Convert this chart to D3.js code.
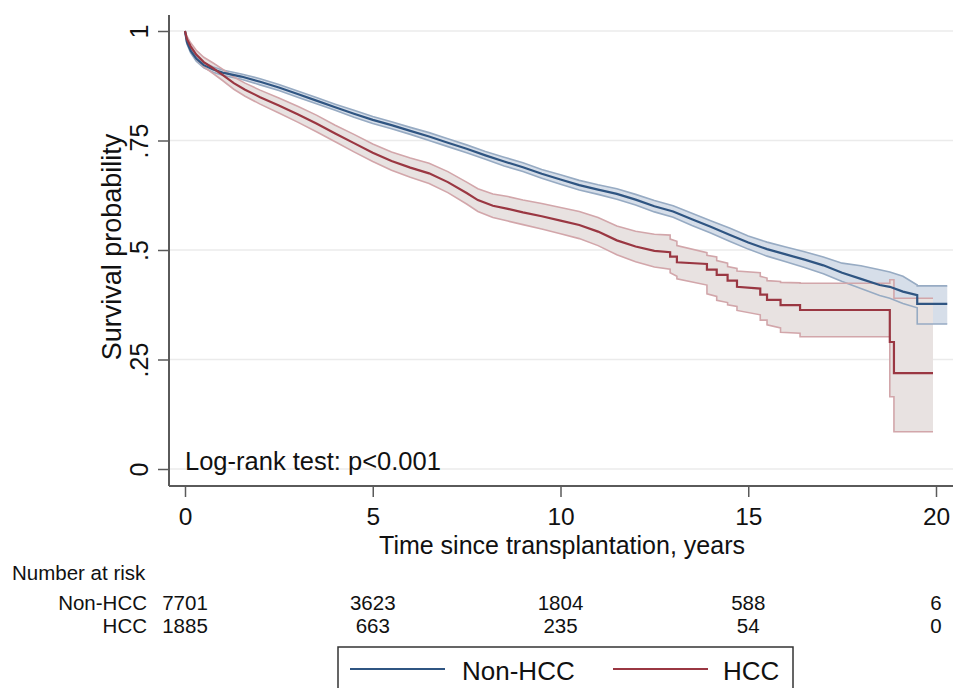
<!DOCTYPE html>
<html>
<head>
<meta charset="utf-8">
<script src="https://cdn.jsdelivr.net/npm/d3@7"></script>
<style>
  html, body { margin: 0; padding: 0; background: #fff; }
  svg { display: block; font-family: "Liberation Sans", Arial, sans-serif; }
</style>
</head>
<body>
<svg id="chart" width="953" height="688"></svg>
<script>
// ---------- data ----------
const groups = ["Non-HCC", "HCC"];

const nonHccTime = [0, 0.05, 0.15, 0.3, 0.5, 0.75, 1.0, 1.5, 2, 2.5, 3, 3.5, 4, 4.5, 5, 5.5, 6, 6.5, 7, 7.5, 8, 8.5, 9, 9.5, 10, 10.5, 11, 11.5, 12, 12.5, 13, 13.5, 14, 14.5, 15, 15.5, 16, 16.5, 17, 17.5, 18, 18.5, 18.77, 19.12, 19.5, 19.5, 20.3];
const nonHccSurv = [1, 0.975, 0.955, 0.937, 0.922, 0.912, 0.905, 0.896, 0.884, 0.871, 0.856, 0.841, 0.826, 0.811, 0.797, 0.785, 0.772, 0.759, 0.745, 0.731, 0.716, 0.702, 0.689, 0.674, 0.661, 0.648, 0.638, 0.628, 0.615, 0.600, 0.588, 0.570, 0.553, 0.535, 0.517, 0.502, 0.490, 0.478, 0.465, 0.448, 0.434, 0.420, 0.416, 0.405, 0.397, 0.377, 0.377];
const nonHccLower = [1, 0.971, 0.950, 0.931, 0.916, 0.906, 0.899, 0.890, 0.877, 0.864, 0.849, 0.834, 0.819, 0.803, 0.789, 0.777, 0.764, 0.750, 0.736, 0.722, 0.707, 0.692, 0.679, 0.664, 0.650, 0.637, 0.627, 0.616, 0.603, 0.587, 0.575, 0.556, 0.539, 0.520, 0.502, 0.486, 0.473, 0.460, 0.446, 0.428, 0.412, 0.396, 0.390, 0.378, 0.368, 0.331, 0.331];
const nonHccUpper = [1, 0.979, 0.960, 0.943, 0.928, 0.918, 0.911, 0.902, 0.891, 0.878, 0.863, 0.848, 0.833, 0.819, 0.805, 0.793, 0.780, 0.768, 0.754, 0.740, 0.725, 0.712, 0.699, 0.684, 0.672, 0.659, 0.649, 0.640, 0.627, 0.613, 0.601, 0.584, 0.567, 0.550, 0.532, 0.518, 0.507, 0.496, 0.484, 0.470, 0.464, 0.455, 0.450, 0.440, 0.420, 0.418, 0.418];

const hccTime = [0, 0.05, 0.15, 0.3, 0.5, 0.75, 1.0, 1.3, 1.6, 2.0, 2.5, 3.0, 3.5, 4.0, 4.5, 5.0, 5.5, 6.0, 6.5, 7.0, 7.5, 7.8, 8.2, 8.6, 9.0, 9.5, 10.0, 10.5, 11.0, 11.5, 12.0, 12.5, 12.92, 12.92, 13.1, 13.1, 13.9, 13.9, 14.16, 14.16, 14.45, 14.45, 14.7, 14.7, 15.32, 15.32, 15.5, 15.5, 15.86, 15.86, 16.38, 16.38, 18.77, 18.77, 18.88, 18.88, 19.92];
const hccSurv = [1, 0.982, 0.965, 0.946, 0.929, 0.915, 0.900, 0.881, 0.866, 0.849, 0.830, 0.810, 0.789, 0.766, 0.744, 0.722, 0.703, 0.688, 0.675, 0.655, 0.630, 0.614, 0.601, 0.594, 0.586, 0.577, 0.567, 0.557, 0.542, 0.522, 0.508, 0.498, 0.495, 0.485, 0.485, 0.472, 0.468, 0.455, 0.455, 0.443, 0.443, 0.430, 0.430, 0.416, 0.412, 0.398, 0.398, 0.386, 0.386, 0.374, 0.374, 0.363, 0.363, 0.290, 0.290, 0.219, 0.219];
const hccLower = [1, 0.976, 0.957, 0.936, 0.918, 0.903, 0.887, 0.867, 0.851, 0.833, 0.813, 0.792, 0.770, 0.747, 0.724, 0.702, 0.682, 0.666, 0.652, 0.631, 0.605, 0.588, 0.574, 0.566, 0.558, 0.548, 0.537, 0.526, 0.510, 0.489, 0.473, 0.461, 0.456, 0.448, 0.440, 0.434, 0.420, 0.400, 0.394, 0.385, 0.380, 0.375, 0.371, 0.362, 0.352, 0.340, 0.340, 0.329, 0.322, 0.312, 0.310, 0.302, 0.302, 0.165, 0.165, 0.085, 0.085];
const hccUpper = [1, 0.988, 0.973, 0.956, 0.940, 0.927, 0.913, 0.895, 0.881, 0.865, 0.847, 0.828, 0.808, 0.785, 0.764, 0.742, 0.724, 0.710, 0.698, 0.679, 0.655, 0.640, 0.628, 0.622, 0.614, 0.606, 0.597, 0.588, 0.574, 0.555, 0.543, 0.536, 0.534, 0.525, 0.520, 0.510, 0.494, 0.488, 0.484, 0.476, 0.470, 0.462, 0.458, 0.452, 0.448, 0.440, 0.436, 0.430, 0.428, 0.426, 0.425, 0.424, 0.424, 0.432, 0.432, 0.390, 0.390];

const xTicks = [0, 5, 10, 15, 20];
const yTicks = [0, 0.25, 0.5, 0.75, 1];
const yTickLabels = ["0", ".25", ".5", ".75", "1"];
const riskTimes = [0, 5, 10, 15, 20];
const riskNonHcc = [7701, 3623, 1804, 588, 6];
const riskHcc = [1885, 663, 235, 54, 0];

const xTitle = "Time since transplantation, years";
const yTitle = "Survival probability";
const note = "Log-rank test: p<0.001";

// ---------- layout ----------
const svg = d3.select("#chart");
const axisX = 169, axisTop = 15, axisY = 486, axisRight = 953;
const x = d3.scaleLinear().domain([0, 20]).range([185, 936]);
const y = d3.scaleLinear().domain([0, 1]).range([469, 31]);

const colors = {
  "Non-HCC": { line: "#2f5582", fill: "#d6dee9", edge: "#97abc3" },
  "HCC":     { line: "#9a3742", fill: "#e8e2e1", edge: "#d2a6aa" }
};

const series = [
  { name: "Non-HCC", t: nonHccTime, s: nonHccSurv, lo: nonHccLower, hi: nonHccUpper },
  { name: "HCC", t: hccTime, s: hccSurv, lo: hccLower, hi: hccUpper }
].map(d => ({ name: d.name, pts: d.t.map((t, i) => ({ t, s: d.s[i], lo: d.lo[i], hi: d.hi[i] })) }));

// gridlines
svg.append("g").selectAll("line").data(yTicks).join("line")
  .attr("x1", axisX).attr("x2", axisRight)
  .attr("y1", d => y(d)).attr("y2", d => y(d))
  .attr("stroke", "#ebebeb").attr("stroke-width", 1.5);

// CI areas
const area = d3.area().x(d => x(d.t)).y0(d => y(d.lo)).y1(d => y(d.hi)).curve(d3.curveLinear);
const lineLo = d3.line().x(d => x(d.t)).y(d => y(d.lo));
const lineHi = d3.line().x(d => x(d.t)).y(d => y(d.hi));
const lineS = d3.line().x(d => x(d.t)).y(d => y(d.s));

series.forEach(sr => {
  svg.append("path").datum(sr.pts).attr("d", area)
    .attr("fill", colors[sr.name].fill).attr("stroke", "none");
});
series.forEach(sr => {
  [lineLo, lineHi].forEach(fn => {
    svg.append("path").datum(sr.pts).attr("d", fn)
      .attr("fill", "none").attr("stroke", colors[sr.name].edge).attr("stroke-width", 1.6);
  });
});
series.forEach(sr => {
  svg.append("path").datum(sr.pts).attr("d", lineS)
    .attr("fill", "none").attr("stroke", colors[sr.name].line).attr("stroke-width", 2.2);
});

// axes
const axisColor = "#5a5a5a";
const gy = svg.append("g").attr("transform", `translate(${axisX},0)`)
  .call(d3.axisLeft(y).tickValues(yTicks).tickSize(11).tickFormat((d, i) => yTickLabels[i]));
gy.select(".domain").remove();
gy.selectAll(".tick line").attr("stroke", axisColor).attr("stroke-width", 1.5);
gy.selectAll(".tick text")
  .attr("x", null).attr("dy", null)
  .attr("transform", "translate(-21,0) rotate(-90)")
  .attr("text-anchor", "middle")
  .attr("font-size", 25).attr("fill", "#111")
  .attr("font-family", "Liberation Sans, Arial, sans-serif");

const gx = svg.append("g").attr("transform", `translate(0,${axisY})`)
  .call(d3.axisBottom(x).tickValues(xTicks).tickSize(11).tickFormat(d3.format("d")));
gx.select(".domain").remove();
gx.selectAll(".tick line").attr("stroke", axisColor).attr("stroke-width", 1.5);
gx.selectAll(".tick text").attr("y", 39).attr("dy", null)
  .attr("font-size", 24.5).attr("fill", "#111")
  .attr("font-family", "Liberation Sans, Arial, sans-serif");

svg.append("line").attr("x1", axisX).attr("x2", axisX).attr("y1", axisTop).attr("y2", axisY)
  .attr("stroke", axisColor).attr("stroke-width", 2);
svg.append("line").attr("x1", axisX).attr("x2", axisRight).attr("y1", axisY).attr("y2", axisY)
  .attr("stroke", axisColor).attr("stroke-width", 2);

// titles
svg.append("text").attr("x", 562).attr("y", 554).attr("text-anchor", "middle")
  .attr("font-size", 25).attr("fill", "#111").text(xTitle);
svg.append("text").attr("transform", "translate(121,247) rotate(-90)").attr("text-anchor", "middle")
  .attr("font-size", 27).attr("fill", "#111").text(yTitle);
svg.append("text").attr("x", 185).attr("y", 470)
  .attr("font-size", 25.5).attr("fill", "#111").text(note);

// number at risk
svg.append("text").attr("x", 12).attr("y", 580).attr("font-size", 20.5).attr("fill", "#111").text("Number at risk");
const riskRows = [{ name: groups[0], vals: riskNonHcc, yy: 610 }, { name: groups[1], vals: riskHcc, yy: 633 }];
riskRows.forEach(r => {
  svg.append("text").attr("x", 147).attr("y", r.yy).attr("text-anchor", "end")
    .attr("font-size", 20.5).attr("fill", "#111").text(r.name);
  svg.append("g").selectAll("text").data(r.vals).join("text")
    .attr("x", (d, i) => x(riskTimes[i])).attr("y", r.yy).attr("text-anchor", "middle")
    .attr("font-size", 20.5).attr("fill", "#111").text(d => d);
});

// legend
const lg = svg.append("g");
lg.append("rect").attr("x", 338).attr("y", 647).attr("width", 455).attr("height", 60)
  .attr("fill", "#fff").attr("stroke", "#333").attr("stroke-width", 1.5);
const legendItems = [
  { name: groups[0], x1: 350, x2: 445, tx: 462 },
  { name: groups[1], x1: 613, x2: 708, tx: 723 }
];
legendItems.forEach(it => {
  lg.append("line").attr("x1", it.x1).attr("x2", it.x2).attr("y1", 669).attr("y2", 669)
    .attr("stroke", colors[it.name].line).attr("stroke-width", 2.2);
  lg.append("text").attr("x", it.tx).attr("y", 680).attr("font-size", 26).attr("fill", "#111").text(it.name);
});
</script>
</body>
</html>
